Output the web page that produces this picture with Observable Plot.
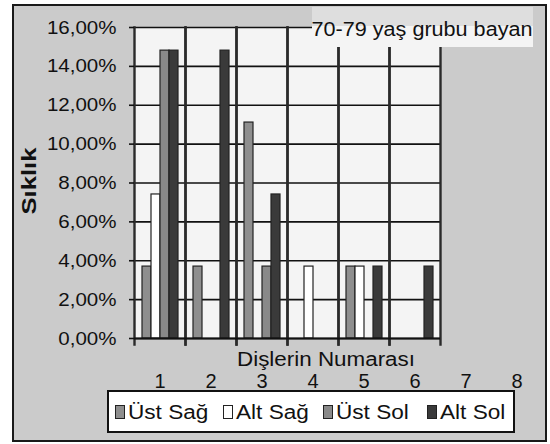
<!DOCTYPE html>
<html><head><meta charset="utf-8">
<script src="https://cdn.jsdelivr.net/npm/d3@7"></script>
<script src="https://cdn.jsdelivr.net/npm/@observablehq/plot@0.6"></script>
<style>
html,body{margin:0;padding:0;background:#fff;}
#chart{position:relative;width:550px;height:444px;overflow:hidden;font-family:"Liberation Sans",Arial,sans-serif;color:#111;}
#bg{position:absolute;left:12px;top:4px;width:535px;height:438px;box-sizing:border-box;border:2px solid #1a1a1a;background:#cbcbcb;}
#chart svg{position:absolute;left:0;top:0;}
.lbl{position:absolute;line-height:1;white-space:nowrap;}
#title{position:absolute;left:312px;top:7px;width:221px;height:40px;background:linear-gradient(#dedede 0 19px,#f4f4f4 19px);}
#legend{position:absolute;left:107px;top:390px;width:408px;height:43px;box-sizing:border-box;border:2px solid #111;background:#fff;}
.sw{position:absolute;width:10px;height:14px;box-sizing:border-box;border:1.5px solid #222;}
</style></head><body>
<div id="chart"><div id="bg"></div></div>
<script>
const categories = ["1","2","3","4","5","6","7","8"];
const seriesNames = ["Üst Sağ","Alt Sağ","Üst Sol","Alt Sol"];
const ustSag = [3.70, 3.70, 11.11, 0, 3.70, 0, 0, 0];
const altSag = [7.41, 0, 0, 3.70, 3.70, 0, 0, 0];
const ustSol = [14.81, 0, 3.70, 0, 0, 0, 0, 0];
const altSol = [14.81, 14.81, 7.41, 0, 3.70, 3.70, 0, 0];
const yTicks = [0, 2, 4, 6, 8, 10, 12, 14, 16];
const seriesColors = ["#8e8e8e", "#ffffff", "#898989", "#3a3a3a"];
const titleText = "70-79 yaş grubu bayan";
const yLabel = "Sıklık";
const xLabel = "Dişlerin Numarası";

const seriesValues = [ustSag, altSag, ustSol, altSol];
const data = [];
categories.forEach((c, i) => seriesNames.forEach((s, j) => {
  const v = seriesValues[j][i];
  if (v > 0) data.push({cat: c, series: s, value: v});
}));
const fmt = d => d.toFixed(2).replace(".", ",") + "%";

const svg = Plot.plot({
  width: 550, height: 444,
  marginLeft: 131, marginRight: 5, marginTop: 27, marginBottom: 106,
  style: {background: "transparent", fontFamily: "Liberation Sans, Arial, sans-serif", fontSize: "19px", color: "#111", overflow: "visible"},
  fx: {domain: categories, padding: 0, label: null},
  x: {domain: seriesNames, paddingInner: 0, paddingOuter: 0.7, axis: null},
  y: {domain: [0, 16], label: null},
  color: {domain: seriesNames, range: seriesColors},
  marks: [
    Plot.frame({fill: "#f4f4f4", stroke: null}),
    Plot.gridY(yTicks, {stroke: "#111", strokeOpacity: 1, strokeWidth: 1.6}),
    Plot.barY(data, {fx: "cat", x: "series", y: "value", fill: "series", stroke: "#222", strokeWidth: 1.2}),
    Plot.frame({anchor: "left", stroke: "#2a2a2a", strokeWidth: 2.4, insetBottom: -6}),
    Plot.frame({anchor: "right", stroke: "#2a2a2a", strokeWidth: 2.4, insetBottom: -6}),
    Plot.ruleY([0], {stroke: "#111", strokeWidth: 2}),
    Plot.axisY(yTicks, {tickSize: 5, tickPadding: 13, tickFormat: fmt, fontSize: 19, strokeWidth: 1.6, label: null}),
    Plot.axisFx({anchor: "bottom", tickSize: 0, tickPadding: 35, fontSize: 20, label: null})
  ]
});
const chart = document.getElementById("chart");
chart.appendChild(svg);
svg.querySelectorAll("text").forEach(t => {
  if (t.textContent.includes("%")) {
    const w = t.getComputedTextLength();
    t.setAttribute("textLength", (w * 1.08).toFixed(1));
    t.setAttribute("lengthAdjust", "spacingAndGlyphs");
  }
});

function addLabel(parent, text, x, y, size, sx, extra) {
  const s = document.createElement("span");
  s.className = "lbl";
  s.textContent = text;
  s.style.left = x + "px";
  s.style.top = y + "px";
  s.style.fontSize = size + "px";
  s.style.transform = "translate(-50%,-50%) " + (extra || "") + " scaleX(" + sx + ")";
  parent.appendChild(s);
  return s;
}

const title = document.createElement("div");
title.id = "title";
chart.appendChild(title);
addLabel(title, titleText, 110, 22, 20, 1.08);

const yl = addLabel(chart, yLabel, 28, 181, 21, 1.22, "rotate(-90deg)");
yl.style.fontWeight = "bold";
addLabel(chart, xLabel, 326, 359, 20, 1.12);

const legend = document.createElement("div");
legend.id = "legend";
chart.appendChild(legend);
const legendX = [115, 223, 323, 427];
seriesNames.forEach((s, i) => {
  const sw = document.createElement("div");
  sw.className = "sw";
  sw.style.left = legendX[i] + "px";
  sw.style.top = "405px";
  sw.style.background = seriesColors[i];
  chart.appendChild(sw);
  const t = document.createElement("span");
  t.className = "lbl";
  t.textContent = s;
  t.style.left = (legendX[i] + 13) + "px";
  t.style.top = "412px";
  t.style.fontSize = "20px";
  t.style.transformOrigin = "left center";
  t.style.transform = "translateY(-50%) scaleX(1.13)";
  chart.appendChild(t);
});
</script>
</body></html>
